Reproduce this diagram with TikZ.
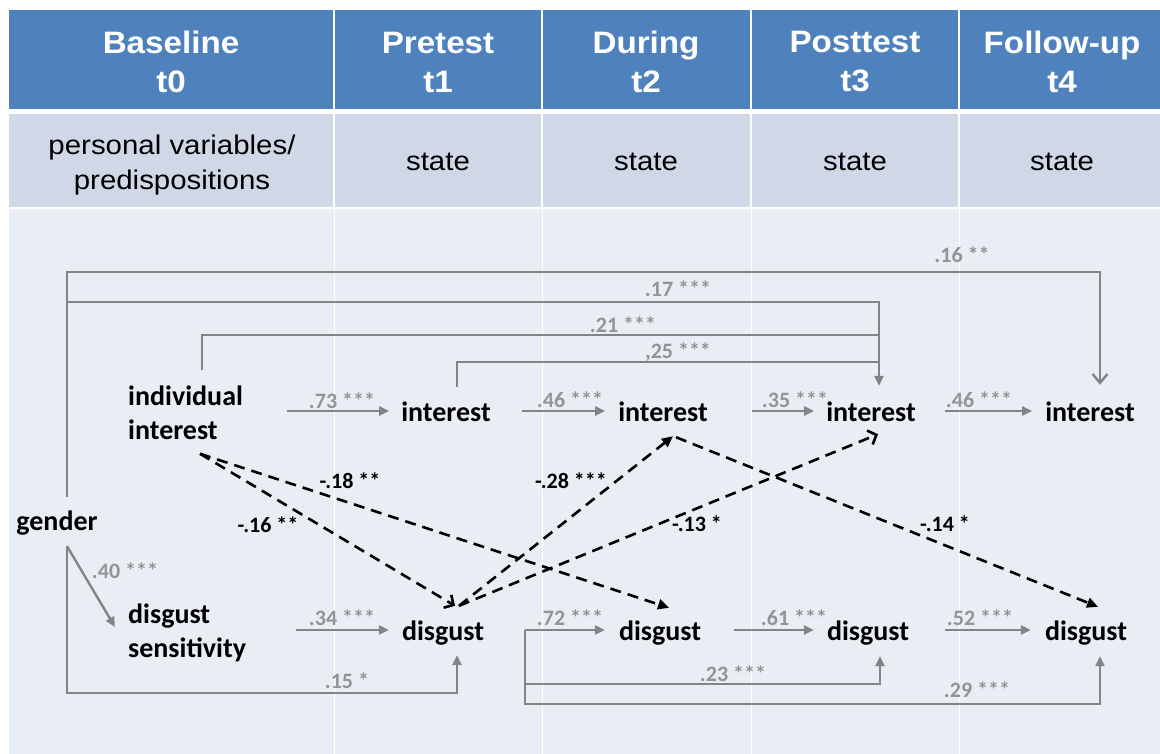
\documentclass[tikz,border=0pt]{standalone}
\usepackage{fontspec}
\usetikzlibrary{arrows.meta}
\newfontfamily\headfont[FakeStretch=1.07]{Liberation Sans}
\newfontfamily\statefont[FakeStretch=1.09]{Liberation Sans}
\newfontfamily\calfont{Carlito}
\definecolor{hdblue}{RGB}{79,129,189}
\definecolor{rowblue}{RGB}{208,216,232}
\definecolor{bodyblue}{RGB}{233,237,244}
\definecolor{pathgray}{RGB}{132,132,132}
\definecolor{labgray}{RGB}{148,148,148}

\begin{document}
\begin{tikzpicture}[x=1pt,y=-1pt,
  hd/.style={text=white, font=\headfont\bfseries\fontsize{31}{39}\selectfont, align=center, inner sep=0pt},
  st/.style={text=black, font=\statefont\fontsize{27}{35}\selectfont, align=center, inner sep=0pt},
  var/.style={font=\calfont\bfseries\fontsize{28}{33}\selectfont, inner sep=0pt, text height=20pt, text depth=0pt},
  var2/.style={font=\calfont\bfseries\fontsize{28}{33.5}\selectfont, inner sep=0pt, align=left, anchor=north west},
  glab/.style={font=\calfont\bfseries\fontsize{22}{26}\selectfont, text=labgray, inner sep=0pt, anchor=base},
  dlab/.style={font=\calfont\bfseries\fontsize{22}{26}\selectfont, text=black, inner sep=0pt, anchor=base},
  gline/.style={draw=pathgray, line width=2.4pt},
  garr/.style={gline, -{Triangle[length=10pt,width=9pt]}},
  garro/.style={gline, -{Straight Barb[length=9pt,width=15pt]}},
  dline/.style={draw=black, line width=2.6pt, dash pattern=on 11pt off 7pt},
  darr/.style={dline, -{Triangle[length=11pt,width=10pt]}},
  darro/.style={dline, -{Straight Barb[length=7pt,width=15pt]}},
]
% page and table cells
\fill[white] (0,0) rectangle (1160,754);
\useasboundingbox (0,0) rectangle (1160,754);
\foreach \xa/\xb in {9/333,335/541,543/750,752/958,960/1160} {
  \fill[hdblue] (\xa,10) rectangle (\xb,109);
  \fill[rowblue] (\xa,114) rectangle (\xb,207);
}
\fill[bodyblue] (9,209) rectangle (1160,754);
\foreach \xs in {334,542,751,959} \draw[white, line width=1pt] (\xs,209) -- (\xs,754);

% column heads
\node[hd] (h0) at (171,62) {Baseline\\t0};
\node[hd] (h1) at (438,62) {Pretest\\t1};
\node[hd] (h2) at (646,62) {During\\t2};
\node[hd] (h3) at (855,62) {Posttest\\t3};
\node[hd] (h4) at (1062,62) {Follow-up\\t4};
\node[st] (s0) at (172,165) {personal variables/\\predispositions};
\node[st] (s1) at (438,162) {state};
\node[st] (s2) at (646,162) {state};
\node[st] (s3) at (855,162) {state};
\node[st] (s4) at (1062,162) {state};

% variables
\node[var2] (ii) at (128,386) {individual\\interest};
\node[var2] (ds) at (128,604) {disgust\\sensitivity};
\node[var] (g) at (57,520) {gender};
\node[var] (i1) at (446,411) {interest};
\node[var] (i2) at (663,411) {interest};
\node[var] (i3) at (871,411) {interest};
\node[var] (i4) at (1090,411) {interest};
\node[var] (d1) at (443,630) {disgust};
\node[var] (d2) at (660,630) {disgust};
\node[var] (d3) at (868,630) {disgust};
\node[var] (d4) at (1086,630) {disgust};

% helper points on the connectors
\coordinate (gt) at ([xshift=10pt,yshift=13pt]g.north);
\coordinate (gb) at ([xshift=10pt,yshift=-16pt]g.south);
\coordinate (i4tip) at ([xshift=10pt,yshift=16pt]i4.north);
\coordinate (i3tip) at ([xshift=8pt,yshift=15pt]i3.north);
\coordinate (c16) at ([yshift=113pt]i4tip);
\coordinate (c17) at ([yshift=84pt]i3tip);
\coordinate (c21) at ([yshift=51pt]i3tip);
\coordinate (c25) at ([yshift=24pt]i3tip);
\coordinate (iit) at ([xshift=74pt,yshift=16pt]ii.north west);
\coordinate (i1t) at ([xshift=11pt,yshift=14pt]i1.north);
\coordinate (d1o) at ([xshift=41pt]d1.east);
\coordinate (d1tip) at ([xshift=14pt,yshift=-15pt]d1.south);
\coordinate (d3tip) at ([xshift=12pt,yshift=-16pt]d3.south);
\coordinate (d4tip) at ([xshift=14pt,yshift=-16pt]d4.south);
\coordinate (c15) at ([yshift=-38pt]d1tip);
\coordinate (c23) at ([yshift=-28pt]d3tip);
\coordinate (c29) at ([yshift=-48pt]d4tip);
\coordinate (iib) at ([xshift=72pt,yshift=-14pt]ii.south west);
\coordinate (d1up) at ([xshift=16pt,yshift=14pt]d1.north);
\coordinate (i2dn) at ([xshift=13pt,yshift=-16pt]i2.south);

% autoregressive paths
\draw[garr] (ii.east |- i1.west) ++(44,0) -- ([xshift=-12pt]i1.west);
\draw[garr] ([xshift=31pt]i1.east) -- ([xshift=-13pt]i2.west);
\draw[garr] ([xshift=44pt]i2.east) -- ([xshift=-12pt]i3.west);
\draw[garr] ([xshift=29pt]i3.east) -- ([xshift=-13pt]i4.west);
\draw[garr] (ds.east |- d1.west) ++(50,0) -- ([xshift=-13pt]d1.west);
\draw[garr] (d1o) -- ([xshift=-14pt]d2.west);
\draw[garr] ([xshift=33pt]d2.east) -- ([xshift=-13pt]d3.west);
\draw[garr] ([xshift=36pt]d3.east) -- ([xshift=-14pt]d4.west);

% gender effects
\draw[garr] (gb) -- ([xshift=-13pt,yshift=-23pt]ds.north west);
\draw[garr] (gb) |- (c15) -- (d1tip);
\draw[garro] (gt) |- (c16) -- (i4tip);
\draw[garr] (c17 -| gt) -- (c17) -- (i3tip);

% lagged interest paths
\draw[gline] (iit) |- (c21);
\draw[gline] (i1t) |- (c25);

% lagged disgust paths
\draw[garr] (d1o) |- (c23) -- (d3tip);
\draw[garr] (d1o) |- (c29) -- (d4tip);

% cross-lagged paths
\draw[darro] (iib) -- ([xshift=12pt,yshift=14pt]d1.north);
\draw[darr] (iib) -- ([xshift=9pt,yshift=12pt]d2.north);
\draw[darr] (d1up) -- ([xshift=10pt,yshift=-15pt]i2.south);
\draw[darro] (d1up) -- ([xshift=7pt,yshift=-13pt]i3.south);
\draw[darr] (i2dn) -- ([xshift=12pt,yshift=13pt]d4.north);

% coefficients
\node[glab] (l73) at (342,408) {.73 ***};
\node[glab] (l46a) at (570,407) {.46 ***};
\node[glab] (l35) at (795,407) {.35 ***};
\node[glab] (l46b) at (979,407) {.46 ***};
\node[glab] (l34) at (342,625) {.34 ***};
\node[glab] (l72) at (570,625) {.72 ***};
\node[glab] (l61) at (794,625) {.61 ***};
\node[glab] (l52) at (980,625) {.52 ***};
\node[glab] (l40) at (125,578) {.40 ***};
\node[glab] (l15) at (347,688) {.15 *};
\node[glab] (l23) at (733,681) {.23 ***};
\node[glab] (l29) at (977,697) {.29 ***};
\node[glab] (l16) at (962,263) {.16 **};
\node[glab] (l17) at (678,297) {.17 ***};
\node[glab] (l21) at (623,332) {.21 ***};
\node[glab] (l25) at (678,358) {,25 ***};
\node[dlab] (m16) at (268,532) {-.16 **};
\node[dlab] (m18) at (350,488) {-.18 **};
\node[dlab] (m28) at (571,488) {-.28 ***};
\node[dlab] (m13) at (697,531) {-.13 *};
\node[dlab] (m14) at (945,531) {-.14 *};
\end{tikzpicture}
\end{document}
